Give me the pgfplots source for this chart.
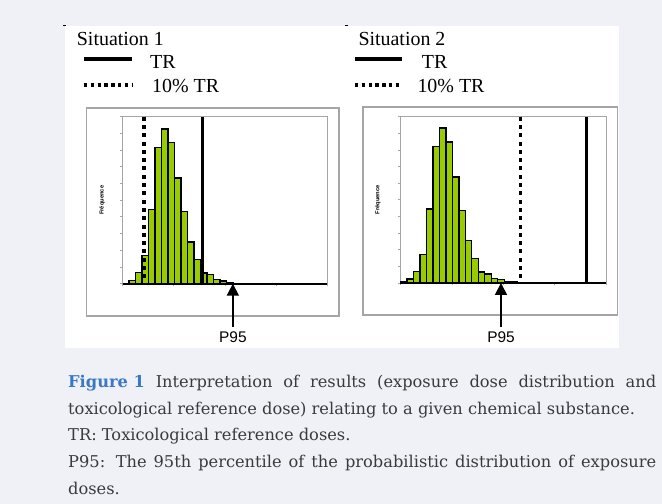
\documentclass[border=0pt]{standalone}
\usepackage{pgfplots}
\pgfplotsset{compat=1.18}
\usetikzlibrary{arrows.meta}
\usepackage{fontspec}
\setmainfont{Liberation Serif}
\newfontfamily\arialfont{Liberation Sans}
\newfontfamily\capfont{DejaVu Serif}
\definecolor{pagebg}{RGB}{240,241,247}
\definecolor{barfill}{HTML}{99CC00}
\definecolor{framegray}{RGB}{165,165,165}
\definecolor{capgray}{RGB}{58,58,58}
\definecolor{figblue}{RGB}{58,120,195}

\pgfplotsset{
  hist/.style={
    scale only axis, clip=false,
    ymin=0, ymax=10,
    axis line style={draw=framegray, line width=1bp},
    ytick={0,...,10}, yticklabels={}, xticklabels={},
    xtick pos=bottom, ytick pos=left,
    tick align=outside, major tick length=2.5bp,
    tick style={draw=framegray, line width=0.8bp},
    extra y ticks={0}, extra y tick labels={},
    extra y tick style={grid=major, major grid style={black, line width=2bp}, major tick length=0pt},
    ylabel={Fréquence},
    ylabel style={font=\arialfont\bfseries\fontsize{5.8}{6}\selectfont, anchor=center},
  },
  bars/.style={ybar, bar width=1, bar shift=0pt, fill=barfill, draw=black, line width=1.35bp},
  trline/.style={black, line width=3.4bp},
  tenline/.style={black, line width=3.6bp, dash pattern=on 4bp off 4.3bp},
  p95/.style={black, line width=1.8bp, -{Triangle[width=12bp,length=12bp]}},
}

\begin{document}
\begin{tikzpicture}
\begin{scope}[x=1bp,y=1bp]
\useasboundingbox (0,0) rectangle (662,504);
\fill[pagebg] (0,0) rectangle (662,504);
\fill[white] (65,156) rectangle (619,478);
\draw[line width=0.8bp] (63,478.5) -- (66,478.5);
\draw[line width=0.8bp] (345,478.5) -- (348,478.5);

% outer frames
\draw[framegray, line width=1.3bp] (86.7,188) rectangle (339,396);
\draw[framegray, line width=1.3bp] (363,189) rectangle (617.7,397);

% headers / legends
\begin{scope}[every node/.style={inner sep=0pt, anchor=base west, font=\fontsize{20}{24}\selectfont}]
\node at (76.7,458) {Situation 1};
\node at (150,435.7) {TR};
\node at (152,411.3) {10\% TR};
\node at (358.3,458) {Situation 2};
\node at (421.7,435.7) {TR};
\node at (417.3,411.3) {10\% TR};
\end{scope}
\draw[black, line width=3.3bp] (84,445) -- (132,445);
\draw[black, line width=3.3bp, dash pattern=on 3.4bp off 3.4bp] (84,419) -- (132,419);
\draw[black, line width=3.3bp] (355,445) -- (402,445);
\draw[black, line width=3.3bp, dash pattern=on 3.4bp off 3.4bp] (355,419) -- (402,419);

% caption
\begin{scope}[every node/.style={inner sep=0pt, anchor=base west, text=capgray, font=\capfont\fontsize{16.3}{20}\selectfont}]
\node at (68,116.3) {\makebox[588bp][s]{\textcolor{figblue}{\bfseries\mbox{Figure 1}} Interpretation of results (exposure dose distribution and}};
\node at (68,89.7) {toxicological reference dose) relating to a given chemical substance.};
\node at (68,63) {TR: Toxicological reference doses.};
\node at (68,36.3) {\makebox[588bp][s]{P95: The 95th percentile of the probabilistic distribution of exposure}};
\node at (68,9.7) {doses.};
\end{scope}
\end{scope}

% Situation 1
\begin{axis}[hist, at={(122.5bp,220.3bp)}, anchor=south west,
  width=204.8bp, height=167bp, xmin=0, xmax=31.55,
  xtick={0,7.9,15.8,23.7,31.55},
  ylabel style={at={(axis description cs:-0.1,0.5)}}]
\addplot[bars] coordinates {(1.5,0.18)(2.5,0.66)(3.5,1.7)(4.5,4.45)(5.5,8.17)(6.5,9.27)(7.5,8.47)(8.5,6.33)(9.5,4.32)(10.5,2.49)(11.5,1.43)(12.5,0.64)(13.5,0.54)(14.5,0.24)(15.5,0.16)(16.5,0.06)(17.5,0.03)};
\addplot[tenline] coordinates {(3.31,10)(3.31,0)};
\addplot[trline] coordinates {(12.3,10)(12.3,0)};
\addplot[p95] coordinates {(17.0,-2.58)(17.0,0)};
\node[anchor=base, inner sep=0pt, font=\arialfont\fontsize{15.5}{18}\selectfont] at (axis cs:17.0,-3.53) {P95};
\end{axis}

% Situation 2
\begin{axis}[hist, at={(400.5bp,221bp)}, anchor=south west,
  width=205.5bp, height=166.3bp, xmin=0, xmax=31.7,
  xtick={0,7.93,15.85,23.78,31.7},
  ylabel style={at={(axis description cs:-0.11,0.5)}}]
\addplot[bars] coordinates {(0.5,0.08)(1.5,0.24)(2.5,0.7)(3.5,1.73)(4.5,4.44)(5.5,8.2)(6.5,9.32)(7.5,8.47)(8.5,6.37)(9.5,4.34)(10.5,2.55)(11.5,1.49)(12.5,0.66)(13.5,0.54)(14.5,0.28)(15.5,0.22)(16.5,0.1)(17.5,0.08)};
\addplot[tenline] coordinates {(18.5,10)(18.5,0)};
\addplot[trline] coordinates {(28.7,10)(28.7,0)};
\addplot[p95] coordinates {(15.5,-2.63)(15.5,0)};
\node[anchor=base, inner sep=0pt, font=\arialfont\fontsize{15.5}{18}\selectfont] at (axis cs:15.5,-3.59) {P95};
\end{axis}
\end{tikzpicture}
\end{document}
